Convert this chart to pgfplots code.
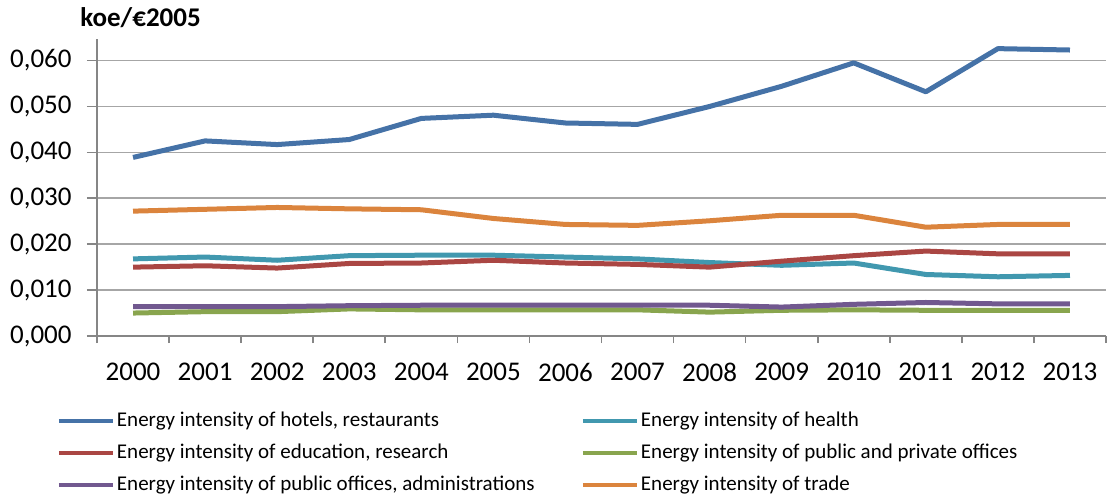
\documentclass[border=0pt]{standalone}
\usepackage{pgfplots}
\pgfplotsset{compat=1.18}
\usepackage{fontspec}
\setmainfont{Carlito}

\definecolor{cHotel}{HTML}{4572A7}
\definecolor{cHealth}{HTML}{4198AF}
\definecolor{cEdu}{HTML}{AA4643}
\definecolor{cOffice}{HTML}{89A54E}
\definecolor{cPublic}{HTML}{71588F}
\definecolor{cTrade}{HTML}{DB843D}
\definecolor{gridgray}{HTML}{A6A6A6}
\definecolor{axisgray}{HTML}{868686}

\newcommand{\lcol}[1]{\makebox[233pt][l]{\hspace{1pt}#1}}
\newcommand{\rcol}[1]{\hspace{1pt}#1}

\begin{document}
\begin{tikzpicture}
\begin{axis}[
    scale only axis,
    width=504.5pt, height=148.5pt,
    xmin=-0.5, xmax=13.5,
    ymin=0, ymax=0.0647,
    axis lines*=left,
    axis line style={axisgray, line width=0.8pt},
    xtick={0,...,13},
    xticklabels={2000,2001,2002,2003,2004,2005,2006,2007,2008,2009,2010,2011,2012,2013},
    minor xtick={-0.5,0.5,...,13.5},
    major x tick style={draw=none},
    minor x tick style={axisgray, line width=0.8pt},
    ytick={0,0.01,0.02,0.03,0.04,0.05,0.06},
    y tick style={axisgray, line width=0.8pt},
    major tick length=5pt,
    minor tick length=3.5pt,
    tick align=outside,
    ymajorgrids=true,
    grid style={gridgray, line width=0.8pt},
    scaled y ticks=false,
    /pgf/number format/assume math mode=true,
    yticklabel style={/pgf/number format/fixed, /pgf/number format/fixed zerofill,
        /pgf/number format/precision=3, /pgf/number format/use comma,
        anchor=east, xshift=-7.5pt},
    tick label style={font=\fontsize{13.5}{16}\selectfont, inner sep=0pt},
    xticklabel style={anchor=north, yshift=-8.5pt},
    legend columns=2,
    legend style={
        at={(0,0)}, anchor=north west,
        xshift=-20pt, yshift=-37pt,
        draw=none, fill=none,
        inner sep=0pt, outer sep=0pt,
        row sep=5.5pt,
        font=\fontsize{10.5}{12}\selectfont,
        nodes={inner sep=0pt, text height=8pt, text depth=2.5pt},
    },
    legend cell align=left,
    legend image code/.code={\draw[#1, line width=2pt] (0pt,0pt) -- (27pt,0pt);},
    every axis plot/.append style={line width=2.5pt, line join=round, mark=none},
]

% hotels, restaurants
\addplot[cHotel] coordinates {
(0,0.0389)(1,0.0425)(2,0.0417)(3,0.0428)(4,0.0474)(5,0.0481)(6,0.0464)
(7,0.0461)(8,0.0500)(9,0.0544)(10,0.0595)(11,0.0532)(12,0.0626)(13,0.0623)};
% health
\addplot[cHealth] coordinates {
(0,0.0168)(1,0.0172)(2,0.0165)(3,0.0175)(4,0.0176)(5,0.0176)(6,0.0172)
(7,0.0168)(8,0.0160)(9,0.0154)(10,0.0159)(11,0.0134)(12,0.0129)(13,0.0132)};
% education, research
\addplot[cEdu] coordinates {
(0,0.0150)(1,0.0153)(2,0.0148)(3,0.0158)(4,0.0159)(5,0.0165)(6,0.0159)
(7,0.0156)(8,0.0150)(9,0.0163)(10,0.0175)(11,0.0185)(12,0.0179)(13,0.0179)};
% public and private offices
\addplot[cOffice] coordinates {
(0,0.0050)(1,0.0053)(2,0.0053)(3,0.0059)(4,0.0057)(5,0.0057)(6,0.0057)
(7,0.0057)(8,0.0052)(9,0.0056)(10,0.0057)(11,0.0056)(12,0.0056)(13,0.0056)};
% public offices, administrations
\addplot[cPublic] coordinates {
(0,0.0064)(1,0.0064)(2,0.0064)(3,0.0066)(4,0.0067)(5,0.0067)(6,0.0067)
(7,0.0067)(8,0.0067)(9,0.0063)(10,0.0069)(11,0.0073)(12,0.0070)(13,0.0070)};
% trade
\addplot[cTrade] coordinates {
(0,0.0272)(1,0.0276)(2,0.0280)(3,0.0277)(4,0.0275)(5,0.0256)(6,0.0243)
(7,0.0241)(8,0.0251)(9,0.0263)(10,0.0263)(11,0.0237)(12,0.0243)(13,0.0243)};

\legend{\lcol{Energy intensity of hotels, restaurants},\rcol{Energy intensity of health},
\lcol{Energy intensity of education, research},\rcol{Energy intensity of public and private offices},
\lcol{Energy intensity of public offices, administrations},\rcol{Energy intensity of trade}}

\coordinate (ll) at (rel axis cs:0,0);
\coordinate (ul) at (rel axis cs:0,1);
\coordinate (ur) at (rel axis cs:1,1);
\end{axis}
\node[anchor=west, inner sep=0pt, font=\fontsize{13.5}{16}\selectfont\bfseries]
  at ([shift={(-8.5pt,10.5pt)}]ul) {koe/€2005};
\pgfresetboundingbox
\path ([shift={(-48.5pt,-80.5pt)}]ll) rectangle ([shift={(0.5pt,19.5pt)}]ur);
\end{tikzpicture}
\end{document}
